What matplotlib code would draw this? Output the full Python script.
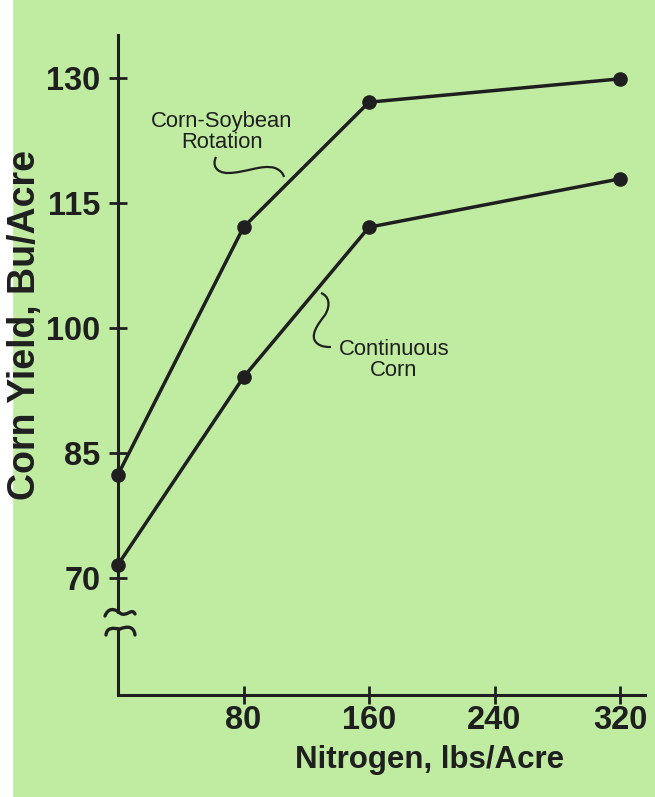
import matplotlib
matplotlib.use("Agg")
import matplotlib.pyplot as plt
from matplotlib.path import Path
from matplotlib.patches import PathPatch, Rectangle
import matplotlib.transforms as mtransforms

# data
nitrogen = [0, 80, 160, 320]
rotation = [82.4, 112.1, 127.1, 129.9]
continuous = [71.6, 94.1, 112.1, 117.9]
xticks = [80, 160, 240, 320]
yticks = [70, 85, 100, 115, 130]

W, H = 655, 797
bg = '#c0eca2'
ink = '#1f1f1f'

plt.rcParams['font.family'] = ['Liberation Sans', 'DejaVu Sans']

fig = plt.figure(figsize=(W / 100, H / 100), dpi=100, facecolor=bg)
# scanned white strip on the left edge
fig.patches.append(Rectangle((0, 0), 12 / W, 1, transform=fig.transFigure,
                             color='white', zorder=0))

ax = fig.add_axes([118 / W, 102 / H, 527 / W, 660 / H])
ax.set_facecolor('none')
ax.set_xlim(0, 335.9)
ax.set_ylim(55.96, 135.16)

for s in ['top', 'right', 'left']:
    ax.spines[s].set_visible(False)
ax.spines['bottom'].set_linewidth(2.2)
ax.spines['bottom'].set_color(ink)

# left spine with a break
yt = ax.get_yaxis_transform()
ax.plot([0, 0], [65.9, 135.16], color=ink, lw=2.2, transform=yt, clip_on=False)
ax.plot([0, 0], [55.96, 63.9], color=ink, lw=2.2, transform=yt, clip_on=False)

ax.plot(nitrogen, rotation, color=ink, lw=2.5, marker='o', ms=9.5, clip_on=False, zorder=3)
ax.plot(nitrogen, continuous, color=ink, lw=2.5, marker='o', ms=9.5, clip_on=False, zorder=3)

ax.set_xticks(xticks)
ax.set_yticks(yticks)
ax.tick_params(direction='inout', length=13, width=2, color=ink,
               labelsize=23.5, labelcolor=ink)
ax.tick_params(axis='y', pad=6)
ax.tick_params(axis='x', pad=1)
for lab in ax.get_xticklabels() + ax.get_yticklabels():
    lab.set_fontweight('bold')

fig.text(430 / W, 1 - 760 / H, 'Nitrogen, lbs/Acre', fontsize=22.5, fontweight='bold',
         color=ink, ha='center', va='center')
fig.text(25 / W, 1 - 325 / H, 'Corn Yield, Bu/Acre', fontsize=27, fontweight='bold',
         color=ink, ha='center', va='center', rotation=90)

# annotations and leaders, placed in image pixels
pix = mtransforms.Affine2D().scale(1, -1).translate(0, H)

fig.text(222 / W, 1 - 132 / H, 'Corn-Soybean\nRotation', fontsize=15.8, color=ink,
         ha='center', va='center', linespacing=1.05)
fig.text(394 / W, 1 - 360 / H, 'Continuous\nCorn', fontsize=15.8, color=ink,
         ha='center', va='center', linespacing=1.05)

C4 = Path.CURVE4
leaders = [
    [(216, 157), (212, 165), (216, 173), (228, 173),
     (245, 173), (262, 164), (275, 168), (280, 170), (283, 173), (284, 177)],
    [(321, 293), (329, 296), (331, 305), (325, 315),
     (318, 324), (308, 337), (318, 344), (322, 347), (327, 347), (331, 347)],
]
for pts in leaders:
    p = Path(pts, [Path.MOVETO] + [C4] * 9)
    fig.patches.append(PathPatch(p, transform=pix, fill=False, lw=1.6, color=ink))

breaks = [
    [(105, 616), (108, 608), (114, 608), (120, 613), (126, 618), (132, 607), (135, 614)],
    [(106, 635), (107, 627), (113, 628), (120, 629), (127, 626), (134, 626), (135, 635)],
]
for pts in breaks:
    p = Path(pts, [Path.MOVETO] + [C4] * 6)
    fig.patches.append(PathPatch(p, transform=pix, fill=False, lw=2.4, color=ink,
                                 capstyle='round'))

fig.savefig('out.png', dpi=100, facecolor=bg)
